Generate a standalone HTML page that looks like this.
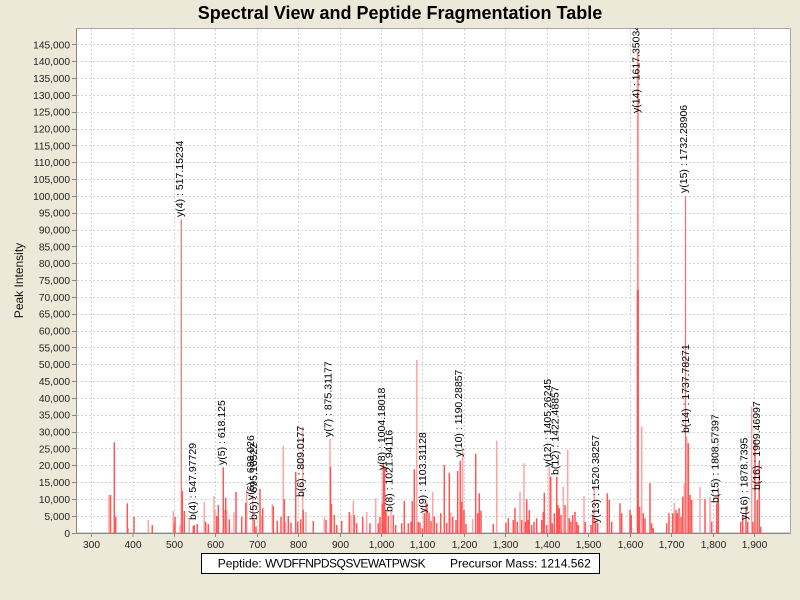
<!DOCTYPE html>
<html>
<head>
<meta charset="utf-8">
<style>
html,body{margin:0;padding:0;background:#ECE9D8;}
svg{display:block;}
text{font-family:"Liberation Sans",sans-serif;}
</style>
</head>
<body>
<svg width="800" height="600" viewBox="0 0 800 600" xmlns="http://www.w3.org/2000/svg">
<rect x="0" y="0" width="800" height="600" fill="#ECE9D8"/>
<text x="400" y="19" text-anchor="middle" font-size="18" font-weight="bold" fill="#000">Spectral View and Peptide Fragmentation Table</text>

<defs>
<clipPath id="pa"><rect x="76.5" y="28.5" width="714" height="504.5"/></clipPath>
</defs>

<!-- plot area -->
<rect x="76.5" y="28.5" width="714" height="504.5" fill="#fff" stroke="#a8a8a8" stroke-width="1"/>

<!-- grid -->
<g stroke="#d4d4d4" stroke-width="1" stroke-dasharray="2,2" fill="none">
<path d="M91.5 29V533M133 29V533M174.5 29V533M215.5 29V533M257.5 29V533M298.5 29V533M340.5 29V533M381.5 29V533M422.5 29V533M464.5 29V533M505.5 29V533M547.5 29V533M588.5 29V533M630.5 29V533M671.5 29V533M713.5 29V533M754.5 29V533"/>
<path d="M77 516.5H790M77 499.5H790M77 482.5H790M77 465.5H790M77 448.5H790M77 432.5H790M77 415.5H790M77 398.5H790M77 381.5H790M77 364.5H790M77 347.5H790M77 331.5H790M77 314.5H790M77 297.5H790M77 280.5H790M77 263.5H790M77 246.5H790M77 230.5H790M77 213.5H790M77 196.5H790M77 179.5H790M77 162.5H790M77 145.5H790M77 129.5H790M77 112.5H790M77 95.5H790M77 78.5H790M77 61.5H790M77 44.5H790"/>
</g>

<g clip-path="url(#pa)">
<!-- light peaks -->
<path fill="none" stroke="#ffa4a4" stroke-width="1.5" d="M109 533V495 M128.3 533V528.3 M148.3 533V520 M173.3 533V511 M180 533V525 M189.3 533V520 M204.3 533V501.7 M214 533V496 M215 533V510 M224.3 533V510 M226.7 533V510 M234 533V512.3 M246.7 533V490 M252.7 533V495 M261.7 533V516 M272.3 533V504 M283.3 533V445.7 M285.7 533V521.7 M302.7 533V426.7 M306 533V512 M324.3 533V517.3 M330 533V439 M351 533V515 M353.3 533V500.7 M366.7 533V512 M375.7 533V498.3 M391 533V512 M416.7 533V360 M425.7 533V498.3 M432.7 533V492 M450.7 533V512.7 M462.7 533V451.7 M472.7 533V519 M496.7 533V440.7 M520 533V492 M524 533V463.3 M549.3 533V466.7 M563.3 533V486.7 M567.7 533V450 M584 533V496 M594.3 533V486.7 M641.7 533V426.7 M674.3 533V502.7 M684.3 533V483.3 M686.7 533V436.7 M700 533V486.7 M710 533V496.7 M751.7 533V406.7"/>
<path fill="none" stroke="#ff8a8a" stroke-width="2" d="M637.8 533V52.7"/>
<!-- solid peaks -->
<path fill="none" stroke="#ff5656" stroke-width="1.5" d="M110.5 533V495 M114.3 533V442.3 M115.7 533V516.7 M127.3 533V503.3 M134 533V516.7 M152.3 533V525 M175 533V516.7 M174.3 533V523.3 M182.3 533V491 M184.3 533V511 M193.3 533V526 M194.3 533V525 M197.3 533V524 M205.7 533V521.7 M208.3 533V524 M216.7 533V516 M218.3 533V505 M223.3 533V467.3 M225.7 533V497.7 M229.3 533V519.3 M236 533V492 M241.7 533V516.7 M245.7 533V502.7 M254.3 533V520 M256 533V526.7 M260 533V489 M262.7 533V508.3 M273.3 533V506 M277.3 533V520.7 M281 533V516.7 M284.3 533V499.3 M288.3 533V516 M291 533V522.7 M295.7 533V471.7 M297.7 533V521.7 M300.7 533V519.3 M303.3 533V510 M313.3 533V521 M326 533V520 M330.5 533V466.7 M331.5 533V504.3 M334.3 533V515 M336.7 533V525 M341.7 533V521 M349.3 533V512 M354.3 533V515 M356.7 533V523.3 M362.7 533V516.7 M370 533V523.3 M378.3 533V523.3 M380 533V516.7 M382.3 533V503.3 M383.3 533V462.7 M384.6 533V466.7 M386 533V511.7 M388.3 533V516 M393.3 533V515 M395.7 533V525 M401.7 533V523.3 M404.3 533V500.7 M408.3 533V523.3 M411 533V521.7 M412.3 533V501 M414.3 533V469.3 M418.3 533V521.7 M420 533V522.7 M422.3 533V528.3 M424.3 533V513.3 M426.9 533V503.3 M429 533V512.7 M431 533V521 M434.3 533V516.7 M436.7 533V523.3 M440.7 533V513.3 M444.3 533V465 M446.7 533V522.7 M449.3 533V472.7 M452.7 533V516.7 M456 533V520 M457.7 533V471 M460.3 533V460.7 M461.7 533V501.7 M464 533V510 M466 533V524 M475.7 533V454 M477.7 533V513.3 M479.3 533V493.3 M481 533V510.7 M493.3 533V524 M506 533V522.7 M508.3 533V518.3 M513.3 533V520 M515 533V507.7 M517.3 533V521.7 M521.7 533V520 M525.3 533V521.7 M526.7 533V499.3 M528.3 533V520 M529.3 533V510 M531.7 533V525 M534 533V521.7 M536.7 533V518.3 M541.7 533V520 M543.3 533V511.7 M544.3 533V492.7 M546.7 533V525 M550.7 533V476.7 M552.3 533V523.3 M554.3 533V513.3 M556.7 533V476.7 M557.9 533V505 M559.3 533V508.3 M561 533V515 M565 533V505 M569.3 533V518.3 M571 533V521.7 M572.7 533V515 M575 533V511.7 M576.7 533V521.7 M578.3 533V525 M585.3 533V521.7 M591 533V525 M592.7 533V515 M595.7 533V521.7 M597.7 533V522.7 M607.3 533V493.3 M609.3 533V500 M611.7 533V521.7 M620 533V503.3 M621.7 533V513.3 M630 533V510 M631.3 533V515 M638.7 533V521.7 M639.6 533V506.7 M643.3 533V513.3 M645 533V518.3 M650 533V483.3 M651.7 533V523.3 M653.3 533V528.3 M666.7 533V523.3 M669 533V513.3 M672.7 533V513.3 M676 533V510 M677.3 533V513.3 M679 533V508.3 M681 533V516.7 M682.7 533V496.7 M688.3 533V443.3 M690 533V495 M691.7 533V500 M705 533V499.3 M711.7 533V521.7 M716.7 533V503.3 M718.3 533V493.3 M740.7 533V521.7 M742.7 533V515 M746 533V506.7 M747.7 533V521.7 M752.9 533V521.7 M755 533V440 M757.3 533V500 M759.3 533V461.7 M760.7 533V526.7"/>
<path fill="none" stroke="#ff4a4a" stroke-width="2" d="M637.8 533V290"/>
<path fill="none" stroke="#ff6a6a" stroke-width="1.2" d="M181.3 533V219.3 M685.5 533V196"/>

<!-- annotations -->
<g font-size="10.5" fill="#000">
<text transform="translate(183,217) rotate(-90)">y(4) : 517.15234</text>
<text transform="translate(196,520) rotate(-90)">b(4) : 547.97729</text>
<text transform="translate(225,465) rotate(-90)">y(5) : 618.125</text>
<text transform="translate(254,500) rotate(-90)">y(6) : 688.026</text>
<text transform="translate(257,520) rotate(-90)">b(5) : 695.16522</text>
<text transform="translate(304,497) rotate(-90)">b(6) : 809.0177</text>
<text transform="translate(331.5,437) rotate(-90)">y(7) : 875.31177</text>
<text transform="translate(385,470) rotate(-90)">y(8) : 1004.18018</text>
<text transform="translate(392.5,512) rotate(-90)">b(8) : 1021.94116</text>
<text transform="translate(426,513) rotate(-90)">y(9) : 1103.31128</text>
<text transform="translate(462,457) rotate(-90)">y(10) : 1190.28857</text>
<text transform="translate(551,467) rotate(-90)">y(12) : 1405.26245</text>
<text transform="translate(558.5,475) rotate(-90)">b(12) : 1422.48857</text>
<text transform="translate(599,523) rotate(-90)">y(13) : 1520.38257</text>
<text transform="translate(639.5,113) rotate(-90)">y(14) : 1617.35034</text>
<text transform="translate(687,193) rotate(-90)">y(15) : 1732.28906</text>
<text transform="translate(689,433) rotate(-90)">b(14) : 1737.78271</text>
<text transform="translate(718.5,503) rotate(-90)">b(15) : 1808.57397</text>
<text transform="translate(747.5,520) rotate(-90)">y(16) : 1878.7395</text>
<text transform="translate(760,490) rotate(-90)">b(16) : 1909.46997</text>
</g>
</g>

<!-- axes -->
<path d="M76.5 28.5V533.5H790.5" fill="none" stroke="#888" stroke-width="1"/>
<g stroke="#888" stroke-width="1">
<path d="M72 533.5H76M72 516.5H76M72 499.5H76M72 482.5H76M72 465.5H76M72 448.5H76M72 432.5H76M72 415.5H76M72 398.5H76M72 381.5H76M72 364.5H76M72 347.5H76M72 331.5H76M72 314.5H76M72 297.5H76M72 280.5H76M72 263.5H76M72 246.5H76M72 230.5H76M72 213.5H76M72 196.5H76M72 179.5H76M72 162.5H76M72 145.5H76M72 129.5H76M72 112.5H76M72 95.5H76M72 78.5H76M72 61.5H76M72 44.5H76"/>
<path d="M91.5 534V537M133 534V537M174.5 534V537M215.5 534V537M257.5 534V537M298.5 534V537M340.5 534V537M381.5 534V537M422.5 534V537M464.5 534V537M505.5 534V537M547.5 534V537M588.5 534V537M630.5 534V537M671.5 534V537M713.5 534V537M754.5 534V537"/>
</g>

<!-- y tick labels -->
<g font-size="10.2" fill="#222" text-anchor="end">
<text x="70" y="537">0</text>
<text x="70" y="520">5,000</text>
<text x="70" y="503">10,000</text>
<text x="70" y="486">15,000</text>
<text x="70" y="469">20,000</text>
<text x="70" y="452.5">25,000</text>
<text x="70" y="435.5">30,000</text>
<text x="70" y="418.5">35,000</text>
<text x="70" y="402">40,000</text>
<text x="70" y="385">45,000</text>
<text x="70" y="368">50,000</text>
<text x="70" y="351.5">55,000</text>
<text x="70" y="334.5">60,000</text>
<text x="70" y="317.5">65,000</text>
<text x="70" y="301">70,000</text>
<text x="70" y="284">75,000</text>
<text x="70" y="267">80,000</text>
<text x="70" y="250.5">85,000</text>
<text x="70" y="233.5">90,000</text>
<text x="70" y="216.5">95,000</text>
<text x="70" y="200">100,000</text>
<text x="70" y="183">105,000</text>
<text x="70" y="166">110,000</text>
<text x="70" y="149.5">115,000</text>
<text x="70" y="132.5">120,000</text>
<text x="70" y="115.5">125,000</text>
<text x="70" y="99">130,000</text>
<text x="70" y="82">135,000</text>
<text x="70" y="65">140,000</text>
<text x="70" y="48.5">145,000</text>
</g>

<!-- x tick labels -->
<g font-size="10.2" fill="#222" text-anchor="middle">
<text x="91.5" y="548">300</text>
<text x="133" y="548">400</text>
<text x="174.5" y="548">500</text>
<text x="215.5" y="548">600</text>
<text x="257.5" y="548">700</text>
<text x="298.5" y="548">800</text>
<text x="340.5" y="548">900</text>
<text x="381.5" y="548">1,000</text>
<text x="422.5" y="548">1,100</text>
<text x="464.5" y="548">1,200</text>
<text x="505.5" y="548">1,300</text>
<text x="547.5" y="548">1,400</text>
<text x="588.5" y="548">1,500</text>
<text x="630.5" y="548">1,600</text>
<text x="671.5" y="548">1,700</text>
<text x="713.5" y="548">1,800</text>
<text x="754.5" y="548">1,900</text>
</g>

<text x="433.7" y="565" text-anchor="middle" font-size="12" fill="#111">Mass (m/z)</text>
<text transform="translate(23,280.5) rotate(-90)" text-anchor="middle" font-size="12" fill="#111">Peak Intensity</text>

<!-- legend -->
<rect x="201.5" y="553.5" width="398" height="20" fill="#fff" stroke="#000" stroke-width="1"/>
<text x="217.7" y="567.5" font-size="12" fill="#000">Peptide: <tspan letter-spacing="-0.5">WVDFFNPDSQSVEWATPWSK</tspan></text>
<text x="450" y="567.5" font-size="12" fill="#000">Precursor Mass: 1214.562</text>
</svg>
</body>
</html>
